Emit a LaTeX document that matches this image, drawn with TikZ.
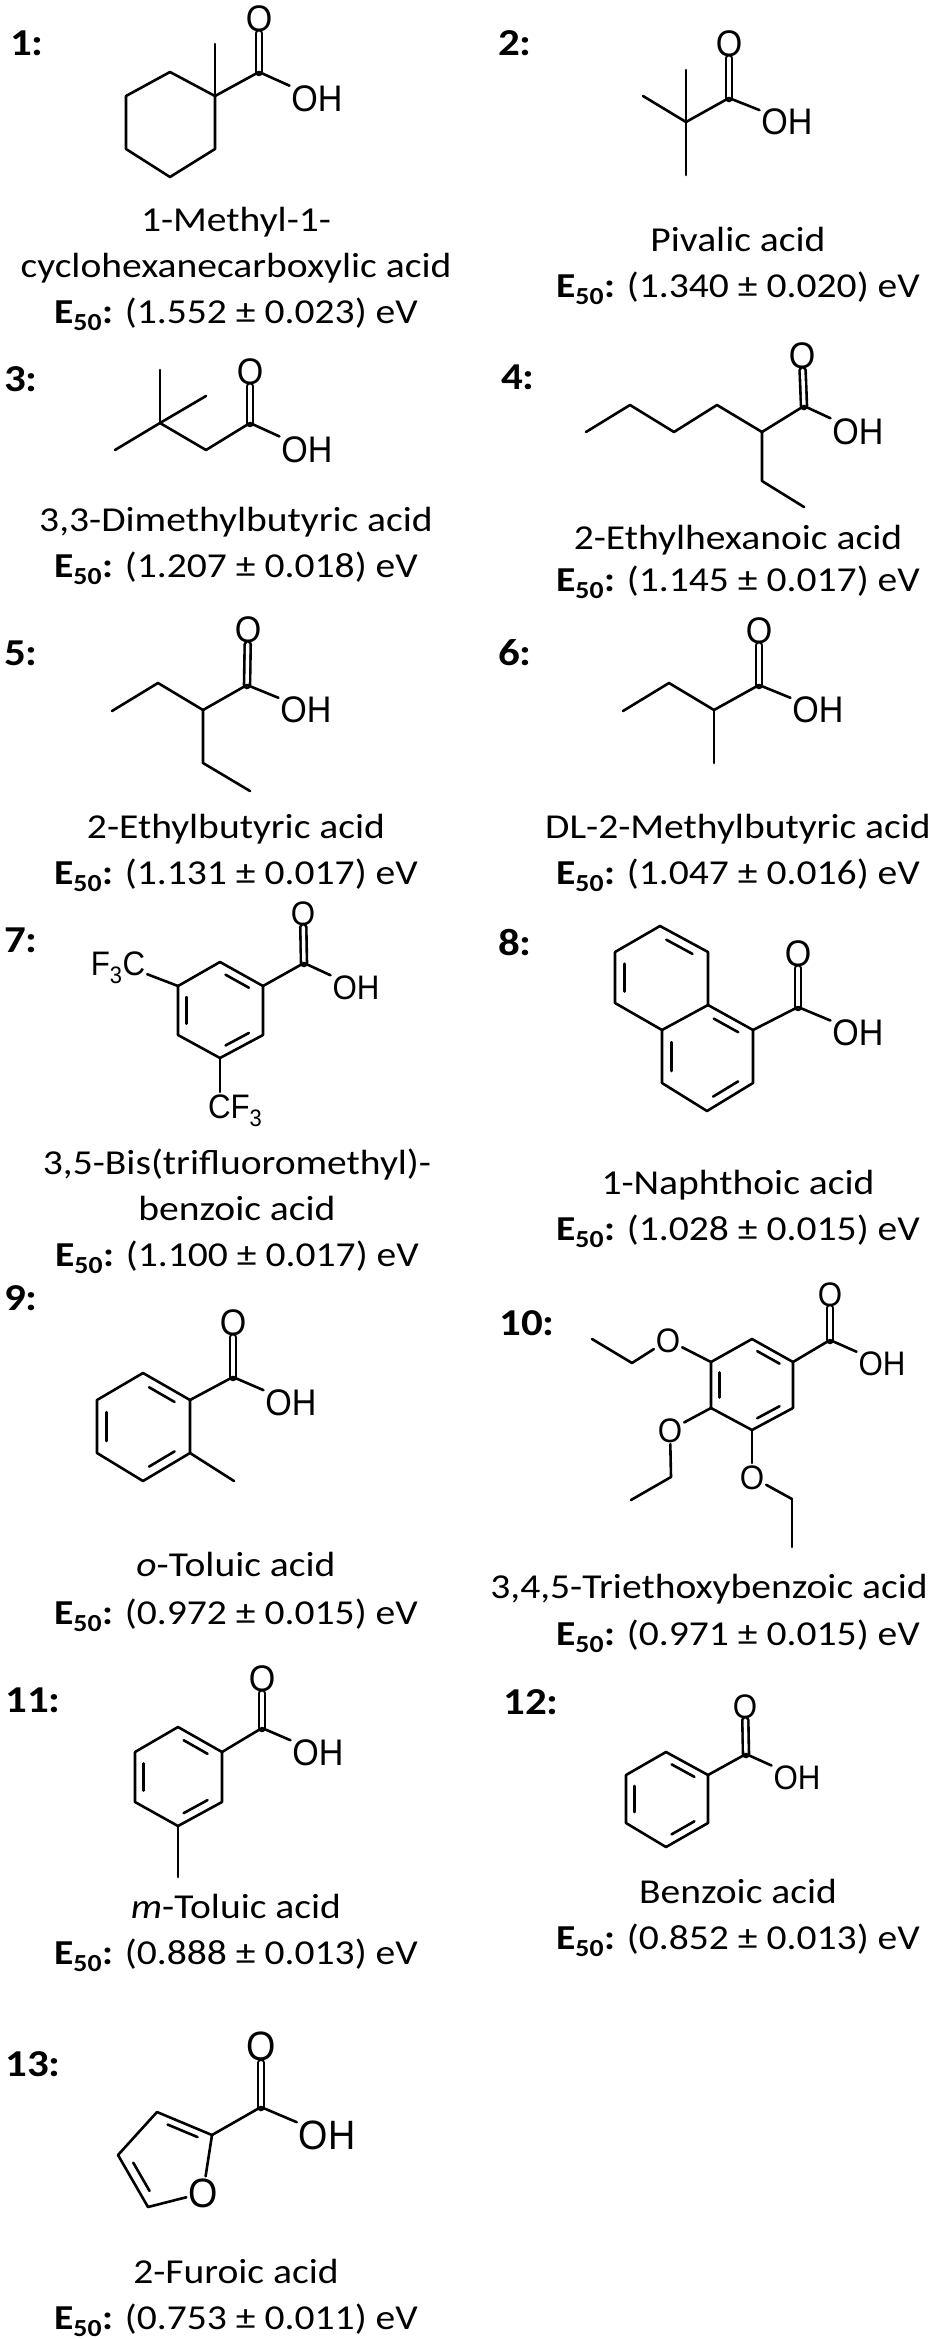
\documentclass[tikz,border=0pt]{standalone}
\usepackage{fontspec}
\setmainfont[FakeStretch=1.13]{Carlito}
\newfontfamily\atomfont[FakeStretch=.92]{Liberation Sans}
\usetikzlibrary{positioning, calc}

\newcommand{\eso}[2]{\textbf{E\textsubscript{50}:} (#1 ± #2) eV}
% inner line of a ring double bond
\newcommand{\inbond}[3]{\path[bond] ($(#1)!.16!(#2)!.2!(#3)$) edge ($(#2)!.16!(#1)!.2!(#3)$);}

\tikzset{
  bond/.style={line width=2.6pt, line cap=round, line join=round},
  co/.style={double, double distance=3.4pt},
  atom/.style={font=\atomfont\fontsize{37}{39}\selectfont, inner sep=0pt, outer sep=2pt, text height=26.5pt, text depth=0pt},
  smallatom/.style={atom, font=\atomfont\fontsize{34}{36}\selectfont, text height=24pt},
  bigatom/.style={atom, font=\atomfont\fontsize{41}{43}\selectfont, text height=29.5pt},
  tag/.style={font=\fontsize{38}{40}\selectfont\bfseries, inner sep=0pt, text height=24pt, text depth=0pt},
  title/.style={font=\fontsize{35}{37}\selectfont, inner sep=0pt, text height=22pt, text depth=0pt}
}

\begin{document}
\begin{tikzpicture}[x=1pt, y=-1pt, node distance=46pt, on grid]
  \useasboundingbox (0,0) rectangle (937,2339);

  % 1
  \node[tag] (tag_1) at (27,44) {1:};
  \path (215,96) coordinate (q_1) (215,44) coordinate (m_1) (259,72) coordinate (c_1)
        (170,72) coordinate (a1_2) (126,96) coordinate (a1_3) (126,149) coordinate (a1_4)
        (170,177) coordinate (a1_5) (215,149) coordinate (a1_6);
  \node[atom] (o_1) at (259,18) {O};
  \node[atom] (oh_1) at (317,98) {OH};
  \path[bond] (c_1) edge[co] (o_1) edge (oh_1) edge (q_1) (q_1) edge (m_1);
  \draw[bond] (q_1) -- (a1_2) -- (a1_3) -- (a1_4) -- (a1_5) -- (a1_6) -- cycle;
  \node[title] (n_1) at (236,220) {1-Methyl-1-};
  \node[title] (n_1b) [below = of n_1] {cyclohexanecarboxylic acid};
  \node[title] (e_1) [below = of n_1b] {\eso{1.552}{0.023}};

  % 2
  \node[tag] (tag_2) at (515,44) {2:};
  \path (686,122) coordinate (q_2) (686,70) coordinate (m2_1) (643,96) coordinate (m2_2)
        (686,175) coordinate (m2_3) (729,98) coordinate (c_2);
  \node[atom] (o_2) at (729,43) {O};
  \node[atom] (oh_2) at (787,121) {OH};
  \path[bond] (c_2) edge[co] (o_2) edge (oh_2) edge (q_2)
              (q_2) edge (m2_1) edge (m2_2) edge (m2_3);
  \node[title] (n_2) at (738,240) {Pivalic acid};
  \node[title] (e_2) [below = of n_2] {\eso{1.340}{0.020}};

  % 3
  \node[tag] (tag_3) at (21,379) {3:};
  \path (160,423) coordinate (q_3) (160,370) coordinate (m3_1) (206,396) coordinate (m3_2)
        (115,450) coordinate (m3_3) (206,450) coordinate (h_3) (250,423) coordinate (c_3);
  \node[atom] (o_3) at (250,371) {O};
  \node[atom] (oh_3) at (307,449) {OH};
  \path[bond] (c_3) edge[co] (o_3) edge (oh_3) edge (h_3) (h_3) edge (q_3)
              (q_3) edge (m3_1) edge (m3_2) edge (m3_3);
  \node[title] (n_3) at (236,520) {3,3-Dimethylbutyric acid};
  \node[title] (e_3) [below = of n_3] {\eso{1.207}{0.018}};

  % 4
  \node[tag] (tag_4) at (518,377) {4:};
  \path (586,432) coordinate (a4_1) (630,405) coordinate (a4_2) (674,432) coordinate (a4_3)
        (717,405) coordinate (a4_4) (762,432) coordinate (a4_5) (804,406) coordinate (c_4)
        (762,481) coordinate (a4_6) (804,507) coordinate (a4_7);
  \node[atom] (o_4) at (802,355) {O};
  \node[atom] (oh_4) at (858,431) {OH};
  \path[bond] (c_4) edge[co] (o_4) edge (oh_4);
  \draw[bond] (a4_1) -- (a4_2) -- (a4_3) -- (a4_4) -- (a4_5) -- (c_4);
  \draw[bond] (a4_5) -- (a4_6) -- (a4_7);
  \node[title] (n_4) at (738,538) {2-Ethylhexanoic acid};
  \node[title] (e_4) [below = 42pt of n_4] {\eso{1.145}{0.017}};

  % 5
  \node[tag] (tag_5) at (21,653) {5:};
  \path (112,711) coordinate (a5_1) (158,683) coordinate (a5_2) (203,710) coordinate (a5_3)
        (247,685) coordinate (c_5) (203,763) coordinate (a5_4) (250,791) coordinate (a5_5);
  \node[atom] (o_5) at (248,629) {O};
  \node[atom] (oh_5) at (306,709) {OH};
  \path[bond] (c_5) edge[co] (o_5) edge (oh_5);
  \draw[bond] (a5_1) -- (a5_2) -- (a5_3) -- (c_5);
  \draw[bond] (a5_3) -- (a5_4) -- (a5_5);
  \node[title] (n_5) at (236,827) {2-Ethylbutyric acid};
  \node[title] (e_5) [below = of n_5] {\eso{1.131}{0.017}};

  % 6
  \node[tag] (tag_6) at (515,653) {6:};
  \path (623,711) coordinate (a6_1) (669,683) coordinate (a6_2) (714,710) coordinate (a6_3)
        (759,685) coordinate (c_6) (714,763) coordinate (a6_4);
  \node[atom] (o_6) at (759,630) {O};
  \node[atom] (oh_6) at (818,709) {OH};
  \path[bond] (c_6) edge[co] (o_6) edge (oh_6);
  \draw[bond] (a6_1) -- (a6_2) -- (a6_3) -- (c_6);
  \draw[bond] (a6_3) -- (a6_4);
  \node[title] (n_6) at (738,827) {DL-2-Methylbutyric acid};
  \node[title] (e_6) [below = of n_6] {\eso{1.047}{0.016}};

  % 7
  \node[tag] (tag_7) at (21,940) {7:};
  \path (220,962) coordinate (a7_1) (263,986) coordinate (a7_2) (263,1035) coordinate (a7_3)
        (220,1058) coordinate (a7_4) (178,1035) coordinate (a7_5) (178,986) coordinate (a7_6)
        (220,1010) coordinate (r_7) (304,963) coordinate (c_7) (220,1092) coordinate (cf_7);
  \node[smallatom] (o_7) at (303,913) {O};
  \node[smallatom] (oh_7) at (356,987) {OH};
  \node[smallatom] (fc_7) at (118,963) {F\textsubscript{3}C};
  \node[smallatom, anchor=north west] at (206,1092) (fb_7) {CF\textsubscript{3}};
  \path[bond] (c_7) edge[co] (o_7) edge (oh_7) edge (a7_2)
              (a7_6) edge (fc_7) (a7_4) edge (cf_7);
  \draw[bond] (a7_1) -- (a7_2) -- (a7_3) -- (a7_4) -- (a7_5) -- (a7_6) -- cycle;
  \inbond{a7_1}{a7_2}{r_7} \inbond{a7_5}{a7_6}{r_7} \inbond{a7_3}{a7_4}{r_7}
  \node[title] (n_7) at (237,1163) {3,5-Bis(trifluoromethyl)-};
  \node[title] (n_7b) [below = of n_7] {benzoic acid};
  \node[title] (e_7) [below = of n_7b] {\eso{1.100}{0.017}};

  % 8
  \node[tag] (tag_8) at (515,943) {8:};
  \path (660,926) coordinate (a8_1) (708,952) coordinate (a8_2) (708,1005) coordinate (a8_3)
        (662,1030) coordinate (a8_4) (615,1003) coordinate (a8_5) (615,952) coordinate (a8_6)
        (753,1030) coordinate (a8_7) (753,1083) coordinate (a8_8) (707,1111) coordinate (a8_9)
        (662,1083) coordinate (a8_10) (661,978) coordinate (r_8) (708,1057) coordinate (s_8)
        (798,1007) coordinate (c_8);
  \node[atom] (o_8) at (798,953) {O};
  \node[atom] (oh_8) at (858,1032) {OH};
  \path[bond] (c_8) edge[co] (o_8) edge (oh_8) edge (a8_7);
  \draw[bond] (a8_1) -- (a8_2) -- (a8_3) -- (a8_4) -- (a8_5) -- (a8_6) -- cycle;
  \draw[bond] (a8_3) -- (a8_7) -- (a8_8) -- (a8_9) -- (a8_10) -- (a8_4);
  \inbond{a8_1}{a8_2}{r_8} \inbond{a8_5}{a8_6}{r_8}
  \inbond{a8_3}{a8_7}{s_8} \inbond{a8_8}{a8_9}{s_8} \inbond{a8_10}{a8_4}{s_8}
  \node[title] (n_8) at (738,1183) {1-Naphthoic acid};
  \node[title] (e_8) [below = of n_8] {\eso{1.028}{0.015}};

  % 9
  \node[tag] (tag_9) at (21,1298) {9:};
  \path (143,1373) coordinate (a9_1) (190,1400) coordinate (a9_2) (190,1453) coordinate (a9_3)
        (143,1481) coordinate (a9_4) (97,1453) coordinate (a9_5) (97,1400) coordinate (a9_6)
        (143,1427) coordinate (r_9) (233,1377) coordinate (c_9) (234,1481) coordinate (m_9);
  \node[atom] (o_9) at (233,1322) {O};
  \node[atom] (oh_9) at (291,1402) {OH};
  \path[bond] (c_9) edge[co] (o_9) edge (oh_9) edge (a9_2) (a9_3) edge (m_9);
  \draw[bond] (a9_1) -- (a9_2) -- (a9_3) -- (a9_4) -- (a9_5) -- (a9_6) -- cycle;
  \inbond{a9_1}{a9_2}{r_9} \inbond{a9_5}{a9_6}{r_9} \inbond{a9_3}{a9_4}{r_9}
  \node[title] (n_9) at (236,1565) {\textit{o}-Toluic acid};
  \node[title] (e_9) [below = 48pt of n_9] {\eso{0.972}{0.015}};

  % 10
  \node[tag] (tag_10) at (527,1323) {10:};
  \path (752,1339) coordinate (a10_1) (793,1362) coordinate (a10_2) (793,1408) coordinate (a10_3)
        (752,1430) coordinate (a10_4) (711,1408) coordinate (a10_5) (711,1362) coordinate (a10_6)
        (752,1385) coordinate (r_10) (830,1340) coordinate (c_10)
        (632,1363) coordinate (b_1) (592,1339) coordinate (b_2)
        (671,1477) coordinate (b_3) (631,1500) coordinate (b_4)
        (792,1499) coordinate (b_5) (792,1547) coordinate (b_6);
  \node[smallatom] (o_10) at (830,1294) {O};
  \node[smallatom] (oh_10) at (882,1363) {OH};
  \node[smallatom] (ox_1) at (668,1340) {O};
  \node[smallatom] (ox_2) at (670,1430) {O};
  \node[smallatom] (ox_3) at (752,1477) {O};
  \path[bond] (c_10) edge[co] (o_10) edge (oh_10) edge (a10_2)
              (a10_6) edge (ox_1) (ox_1) edge (b_1) (b_1) edge (b_2)
              (a10_5) edge (ox_2) (ox_2) edge (b_3) (b_3) edge (b_4)
              (a10_4) edge (ox_3) (ox_3) edge (b_5) (b_5) edge (b_6);
  \draw[bond] (a10_1) -- (a10_2) -- (a10_3) -- (a10_4) -- (a10_5) -- (a10_6) -- cycle;
  \inbond{a10_1}{a10_2}{r_10} \inbond{a10_5}{a10_6}{r_10} \inbond{a10_3}{a10_4}{r_10}
  \node[title] (n_10) at (709,1587) {3,4,5-Triethoxybenzoic acid};
  \node[title] (e_10) at (738,1634) {\eso{0.971}{0.015}};

  % 11
  \node[tag] (tag_11) at (33,1700) {11:};
  \path (178,1727) coordinate (a11_1) (222,1752) coordinate (a11_2) (222,1802) coordinate (a11_3)
        (178,1826) coordinate (a11_4) (135,1802) coordinate (a11_5) (135,1752) coordinate (a11_6)
        (178,1777) coordinate (r_11) (262,1728) coordinate (c_11) (178,1877) coordinate (m_11);
  \node[atom] (o_11) at (262,1678) {O};
  \node[atom] (oh_11) at (318,1752) {OH};
  \path[bond] (c_11) edge[co] (o_11) edge (oh_11) edge (a11_2) (a11_4) edge (m_11);
  \draw[bond] (a11_1) -- (a11_2) -- (a11_3) -- (a11_4) -- (a11_5) -- (a11_6) -- cycle;
  \inbond{a11_1}{a11_2}{r_11} \inbond{a11_5}{a11_6}{r_11} \inbond{a11_3}{a11_4}{r_11}
  \node[title] (n_11) at (236,1907) {\textit{m}-Toluic acid};
  \node[title] (e_11) [below = of n_11] {\eso{0.888}{0.013}};

  % 12
  \node[tag] (tag_12) at (531,1702) {12:};
  \path (666,1752) coordinate (a12_1) (708,1775) coordinate (a12_2) (708,1823) coordinate (a12_3)
        (666,1847) coordinate (a12_4) (626,1823) coordinate (a12_5) (626,1775) coordinate (a12_6)
        (667,1799) coordinate (r_12) (746,1754) coordinate (c_12);
  \node[smallatom] (o_12) at (745,1706) {O};
  \node[smallatom] (oh_12) at (797,1777) {OH};
  \path[bond] (c_12) edge[co] (o_12) edge (oh_12) edge (a12_2);
  \draw[bond] (a12_1) -- (a12_2) -- (a12_3) -- (a12_4) -- (a12_5) -- (a12_6) -- cycle;
  \inbond{a12_1}{a12_2}{r_12} \inbond{a12_5}{a12_6}{r_12} \inbond{a12_3}{a12_4}{r_12}
  \node[title] (n_12) at (738,1892) {Benzoic acid};
  \node[title] (e_12) [below = of n_12] {\eso{0.852}{0.013}};

  % 13
  \node[tag] (tag_13) at (33,2064) {13:};
  \path (212,2135) coordinate (a13_1) (157,2112) coordinate (a13_2) (118,2155) coordinate (a13_3)
        (148,2207) coordinate (a13_4) (175,2160) coordinate (r_13) (261,2107) coordinate (c_13);
  \node[bigatom] (ox_13) at (203,2193) {O};
  \node[bigatom] (o_13) at (261,2046) {O};
  \node[bigatom] (oh_13) at (327,2135) {OH};
  \path[bond] (c_13) edge[co] (o_13) edge (oh_13) edge (a13_1) (a13_1) edge (ox_13) (a13_4) edge (ox_13);
  \draw[bond] (a13_1) -- (a13_2) -- (a13_3) -- (a13_4);
  \inbond{a13_1}{a13_2}{r_13} \inbond{a13_3}{a13_4}{r_13}
  \node[title] (n_13) at (236,2272) {2-Furoic acid};
  \node[title] (e_13) [below = of n_13] {\eso{0.753}{0.011}};
\end{tikzpicture}
\end{document}
